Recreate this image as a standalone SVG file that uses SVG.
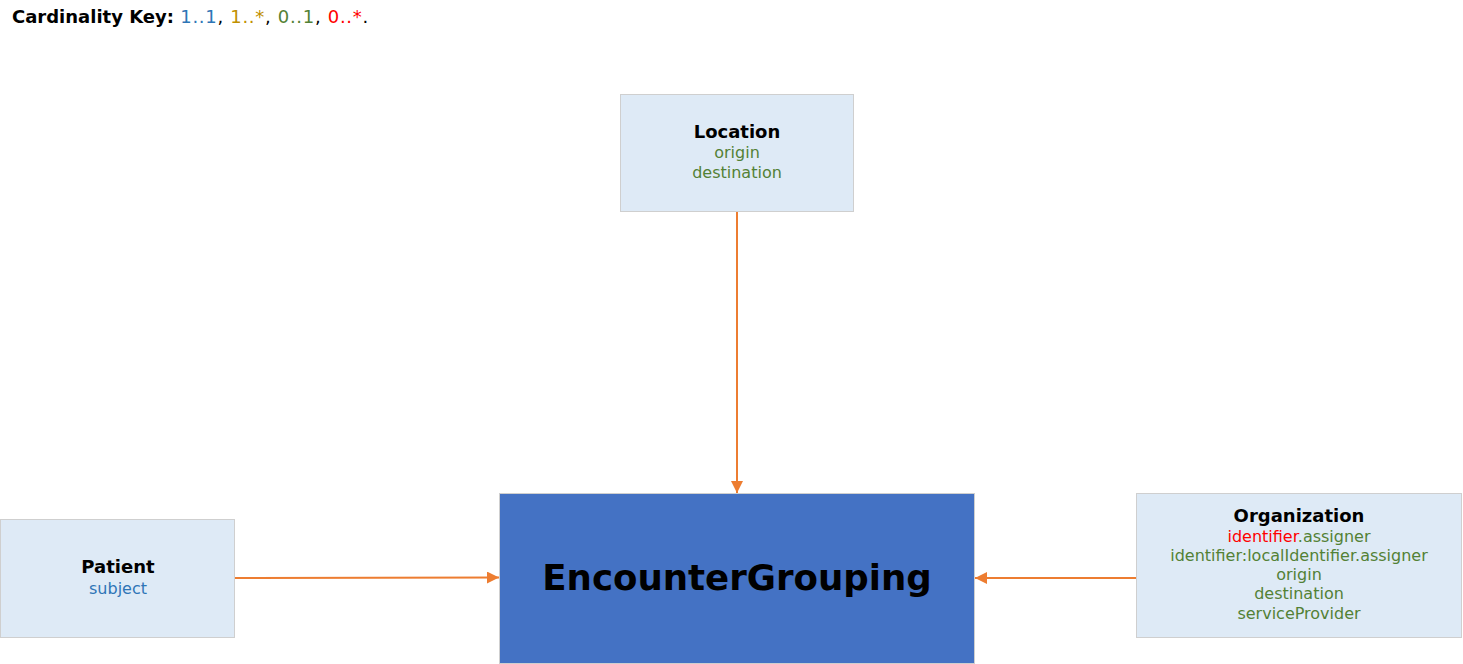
<svg xmlns="http://www.w3.org/2000/svg" width="1463" height="664" viewBox="0 0 1463 664">
<defs>
<marker id="arr" markerWidth="12" markerHeight="12" refX="12" refY="6" orient="auto" markerUnits="userSpaceOnUse">
<path d="M0,0 L12,6 L0,12 Z" fill="#ed7d31"/>
</marker>
<style>
text{font-family:"DejaVu Sans",Verdana,sans-serif;}
.box{fill:#deeaf6;stroke:#cfcfcf;stroke-width:1;}
.main{fill:#4472c4;stroke:#cfcfcf;stroke-width:1;}
.t{font-size:18px;font-weight:bold;fill:#000;text-anchor:middle;}
.a{font-size:16px;text-anchor:middle;}
.b{fill:#2e75b6;}
.g{fill:#538135;}
.y{fill:#bf9000;}
.r{fill:#ff0000;}
.edge{stroke:#ed7d31;stroke-width:2;fill:none;marker-end:url(#arr);}
</style>
</defs>
<rect width="1463" height="664" fill="#fff"/>
<text x="12" y="23" font-size="18"><tspan font-weight="bold">Cardinality Key: </tspan><tspan letter-spacing="0.7"><tspan class="b">1..1</tspan>, <tspan class="y">1..*</tspan>, <tspan class="g">0..1</tspan>, <tspan class="r">0..*</tspan>.</tspan></text>
<g id="connectors">
<path class="edge" d="M737,212 L737,493"/>
<path class="edge" d="M235,578 L499,577.5"/>
<path class="edge" d="M1136,578 L975,578"/>
</g>
<g id="Location">
<rect class="box" x="620.5" y="94.5" width="233" height="117"/>
<text class="t" x="737" y="138">Location</text>
<text class="a g" x="737" y="158">origin</text>
<text class="a g" x="737" y="178">destination</text>
</g>
<g id="Patient">
<rect class="box" x="0.5" y="519.5" width="234" height="118"/>
<text class="t" x="118" y="573">Patient</text>
<text class="a b" x="118" y="594">subject</text>
</g>
<g id="Organization">
<rect class="box" x="1136.5" y="493.5" width="325" height="144"/>
<text class="t" x="1299" y="522">Organization</text>
<text class="a g" x="1299" y="542"><tspan class="r">identifier</tspan>.assigner</text>
<text class="a g" x="1299" y="561">identifier:localIdentifier.assigner</text>
<text class="a g" x="1299" y="580">origin</text>
<text class="a g" x="1299" y="599">destination</text>
<text class="a g" x="1299" y="619">serviceProvider</text>
</g>
<g id="EncounterGrouping">
<rect class="main" x="499.5" y="493.5" width="475" height="170"/>
<text x="737" y="590" font-size="35.6" font-weight="bold" text-anchor="middle" fill="#000">EncounterGrouping</text>
</g>
</svg>
